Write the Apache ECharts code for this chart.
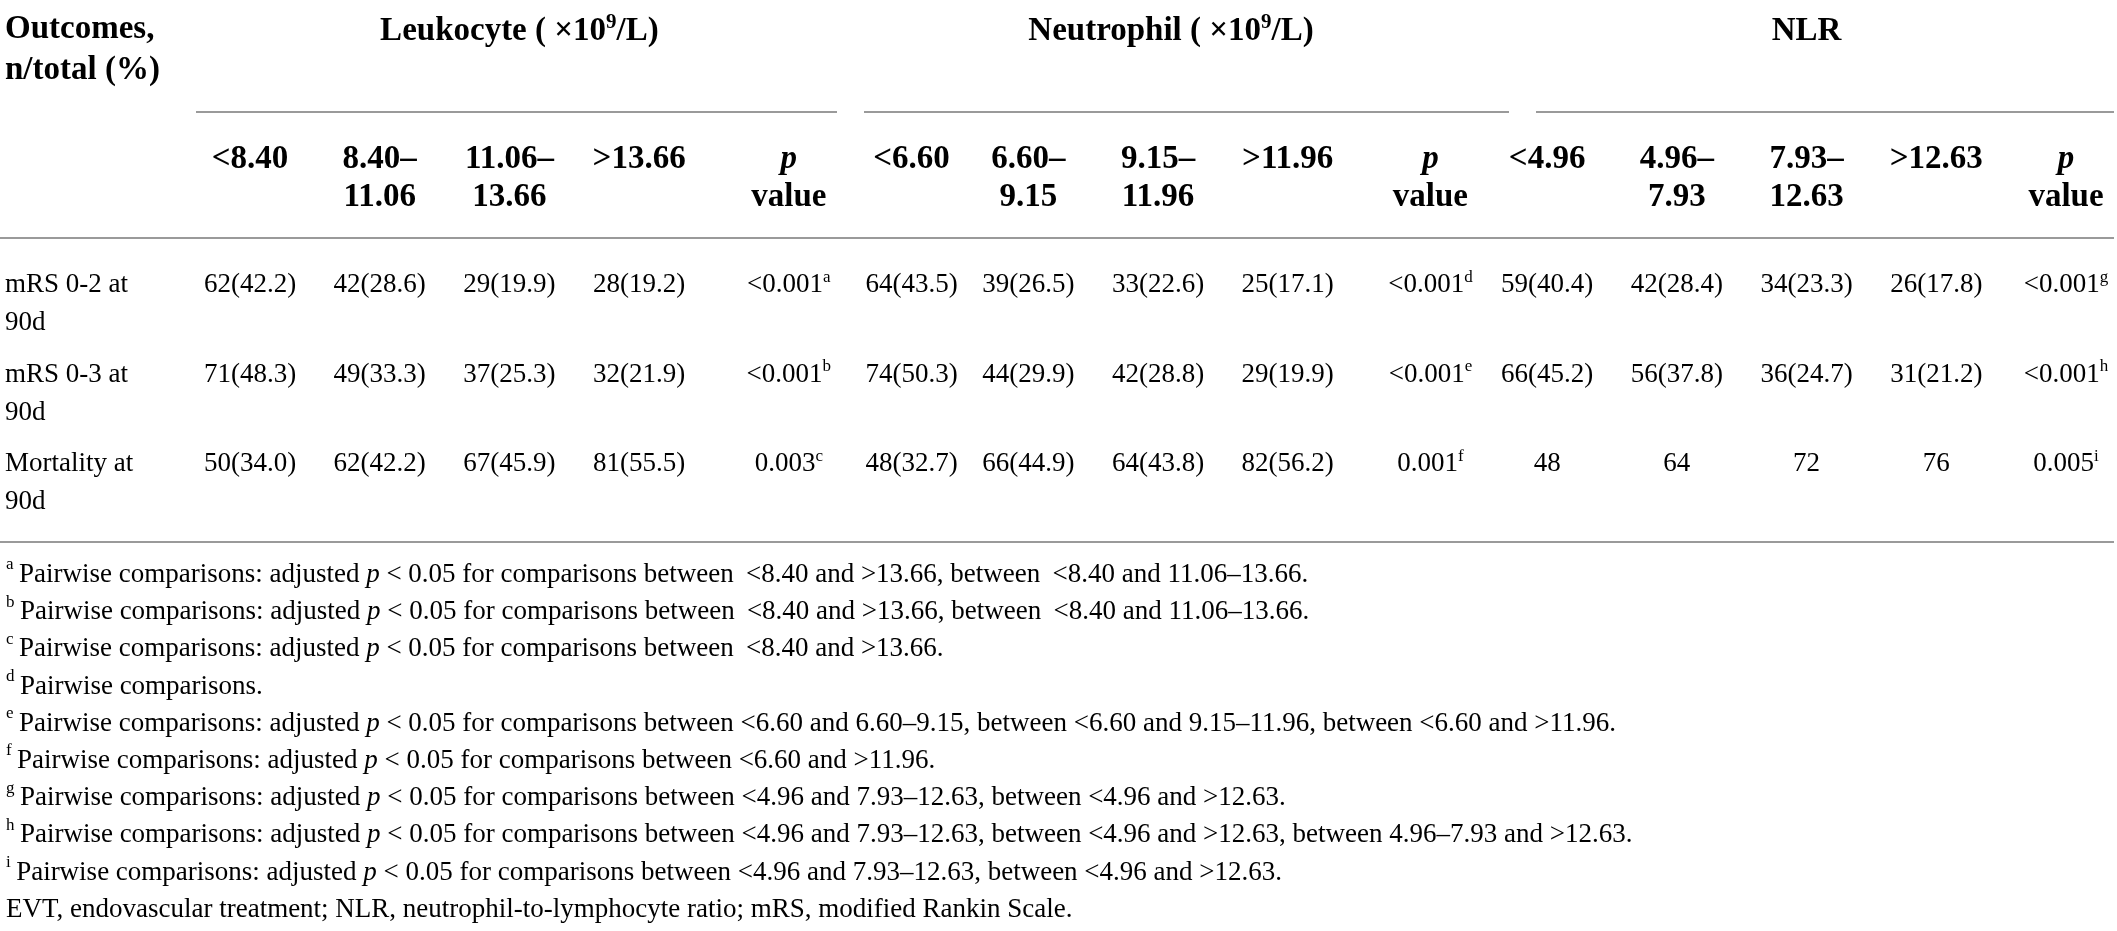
<!DOCTYPE html>
<html>
<head>
<meta charset="utf-8">
<script src="https://cdn.jsdelivr.net/npm/echarts@6/dist/echarts.min.js"></script>
<style>
html,body{margin:0;padding:0;background:#fff;}
#main{width:2117px;height:931px;}
</style>
</head>
<body>
<div id="main"></div>
<script>
var serif = 'Liberation Serif';

// column headers (second header row); a line that is just "p" is set in italics
var colLabels = [
	'<8.40', '8.40–\n11.06', '11.06–\n13.66', '>13.66', 'p\nvalue',
	'<6.60', '6.60–\n9.15', '9.15–\n11.96', '>11.96', 'p\nvalue',
	'<4.96', '4.96–\n7.93', '7.93–\n12.63', '>12.63', 'p\nvalue'
];
var outcomeRows = ['mRS 0-2 at\n90d', 'mRS 0-3 at\n90d', 'Mortality at\n90d'];

var groupNames = ['Leukocyte ( ×10{sup|9}/L)', 'Neutrophil ( ×10{sup|9}/L)', 'NLR'];

var leukocyteCells = [
	['62(42.2)', '42(28.6)', '29(19.9)', '28(19.2)'],
	['71(48.3)', '49(33.3)', '37(25.3)', '32(21.9)'],
	['50(34.0)', '62(42.2)', '67(45.9)', '81(55.5)']
];
var leukocyteP = ['<0.001', '<0.001', '0.003'];
var leukocyteNote = ['a', 'b', 'c'];

var neutrophilCells = [
	['64(43.5)', '39(26.5)', '33(22.6)', '25(17.1)'],
	['74(50.3)', '44(29.9)', '42(28.8)', '29(19.9)'],
	['48(32.7)', '66(44.9)', '64(43.8)', '82(56.2)']
];
var neutrophilP = ['<0.001', '<0.001', '0.001'];
var neutrophilNote = ['d', 'e', 'f'];

var nlrCells = [
	['59(40.4)', '42(28.4)', '34(23.3)', '26(17.8)'],
	['66(45.2)', '56(37.8)', '36(24.7)', '31(21.2)'],
	['48', '64', '72', '76']
];
var nlrP = ['<0.001', '<0.001', '0.005'];
var nlrNote = ['g', 'h', 'i'];

var footMarks = ['a', 'b', 'c', 'd', 'e', 'f', 'g', 'h', 'i'];
var footTexts = [
	'Pairwise comparisons: adjusted p < 0.05 for comparisons between \u2009<8.40 and >13.66, between \u2009<8.40 and 11.06–13.66.',
	'Pairwise comparisons: adjusted p < 0.05 for comparisons between \u2009<8.40 and >13.66, between \u2009<8.40 and 11.06–13.66.',
	'Pairwise comparisons: adjusted p < 0.05 for comparisons between \u2009<8.40 and >13.66.',
	'Pairwise comparisons.',
	'Pairwise comparisons: adjusted p < 0.05 for comparisons between <6.60 and 6.60–9.15, between <6.60 and 9.15–11.96, between <6.60 and >11.96.',
	'Pairwise comparisons: adjusted p < 0.05 for comparisons between <6.60 and >11.96.',
	'Pairwise comparisons: adjusted p < 0.05 for comparisons between <4.96 and 7.93–12.63, between <4.96 and >12.63.',
	'Pairwise comparisons: adjusted p < 0.05 for comparisons between <4.96 and 7.93–12.63, between <4.96 and >12.63, between 4.96–7.93 and >12.63.',
	'Pairwise comparisons: adjusted p < 0.05 for comparisons between <4.96 and 7.93–12.63, between <4.96 and >12.63.'
];
var abbrevText = 'EVT, endovascular treatment; NLR, neutrophil-to-lymphocyte ratio; mRS, modified Rankin Scale.';

// layout: small horizontal nudge (px) per column, and the rule under each group title
var colNudge = [0, 0, 0, 0, 20, 13, 0, 0, 0, 13, 0, 0, 0, 0, 0];
var groupRules = [[196, 837], [864, 1509], [1536, 2114]];

// build cell list [col, row] + text
var cellData = [];
var cellText = [];
function addGroup(cells, pVals, notes, startCol){
	for(var r = 0; r < cells.length; r++){
		for(var c = 0; c < cells[r].length; c++){
			cellData.push([startCol + c, r]);
			cellText.push(cells[r][c]);
		}
		cellData.push([startCol + 4, r]);
		cellText.push(pVals[r] + '{sup|' + notes[r] + '}');
	}
}
addGroup(leukocyteCells, leukocyteP, leukocyteNote, 0);
addGroup(neutrophilCells, neutrophilP, neutrophilNote, 5);
addGroup(nlrCells, nlrP, nlrNote, 10);

var lineColor = '#9a9a9a';
var bodySize = 27;
var headSize = 33;
var headLine = 38;

// header label rich styles, one pair per column so each can carry its nudge
var headRich = {};
for(var k = 0; k < colLabels.length; k++){
	var pad = [0, 0, 0, colNudge[k] * 2];
	headRich['n' + k] = {fontFamily: serif, fontWeight: 'bold', fontSize: headSize, lineHeight: headLine, color: '#000', padding: pad};
	headRich['i' + k] = {fontFamily: serif, fontWeight: 'bold', fontStyle: 'italic', fontSize: headSize, lineHeight: headLine, color: '#000', padding: pad};
}
function headerLabel(value, idx){
	return value.split('\n').map(function(line){
		return '{' + (line === 'p' ? 'i' : 'n') + idx + '|' + line + '}';
	}).join('\n');
}

var chart = echarts.init(document.getElementById('main'));

chart.setOption({
	backgroundColor: '#fff',
	animation: false,
	grid: {left: 250, right: 51, top: 285, bottom: 467},
	xAxis: {
		type: 'category',
		position: 'top',
		data: colLabels,
		boundaryGap: false,
		axisLine: {show: false},
		axisTick: {show: false},
		splitLine: {show: false},
		axisLabel: {
			interval: 0,
			hideOverlap: false,
			margin: 145,
			verticalAlign: 'top',
			align: 'center',
			color: '#000',
			fontFamily: serif,
			fontWeight: 'bold',
			fontSize: headSize,
			lineHeight: headLine,
			formatter: headerLabel,
			rich: headRich
		}
	},
	yAxis: {
		type: 'category',
		inverse: true,
		data: outcomeRows,
		boundaryGap: false,
		axisLine: {show: false},
		axisTick: {show: false},
		splitLine: {show: false},
		axisLabel: {
			interval: 0,
			align: 'left',
			margin: 245,
			lineHeight: 38,
			color: '#000',
			fontFamily: serif,
			fontSize: bodySize,
			// leading blank line keeps the first text line on the row
			formatter: function(v){ return '\n' + v; }
		}
	},
	series: [{
		type: 'custom',
		data: cellData,
		renderItem: function(params, api){
			var col = api.value(0);
			var pt = api.coord([col, api.value(1)]);
			return {
				type: 'text',
				x: pt[0] + colNudge[col],
				y: pt[1],
				style: {
					text: cellText[params.dataIndex],
					fill: '#000',
					fontFamily: serif,
					fontSize: bodySize,
					lineHeight: 32,
					align: 'center',
					verticalAlign: 'middle',
					rich: {
						sup: {fontFamily: serif, fontSize: 17, lineHeight: 14, verticalAlign: 'top', fill: '#000'}
					}
				}
			};
		}
	}]
});

// decorations laid out from the x axis scale
var xs = [];
for(var i = 0; i < colLabels.length; i++){
	xs.push(chart.convertToPixel({xAxisIndex: 0}, i) + colNudge[i]);
}
var graphics = [];
for(var g = 0; g < groupNames.length; g++){
	graphics.push({
		type: 'line',
		shape: {x1: groupRules[g][0], y1: 112, x2: groupRules[g][1], y2: 112},
		style: {stroke: lineColor, lineWidth: 2}
	});
	graphics.push({
		type: 'text',
		x: (xs[g * 5] + xs[g * 5 + 4]) / 2,
		y: 31,
		style: {
			text: groupNames[g],
			fill: '#000',
			fontFamily: serif,
			fontWeight: 'bold',
			fontSize: headSize,
			lineHeight: 38,
			align: 'center',
			verticalAlign: 'middle',
			rich: {sup: {fontFamily: serif, fontWeight: 'bold', fontSize: 21, lineHeight: 20, verticalAlign: 'top', fill: '#000'}}
		}
	});
}
// first header cell
graphics.push({
	type: 'text',
	x: 5,
	y: 50,
	style: {
		text: 'Outcomes,\nn/total (%)',
		fill: '#000',
		fontFamily: serif,
		fontWeight: 'bold',
		fontSize: headSize,
		lineHeight: 41,
		align: 'left',
		verticalAlign: 'middle'
	}
});
// horizontal rules
graphics.push({type: 'line', shape: {x1: 0, y1: 238, x2: 2114, y2: 238}, style: {stroke: lineColor, lineWidth: 2}});
graphics.push({type: 'line', shape: {x1: 0, y1: 542, x2: 2114, y2: 542}, style: {stroke: lineColor, lineWidth: 2}});

// footnotes
var footLines = [];
for(var f = 0; f < footMarks.length; f++){
	footLines.push('{sup|' + footMarks[f] + '}\u2009' + footTexts[f].replace(' p < ', ' {it|p} < '));
}
footLines.push(abbrevText);
graphics.push({
	type: 'text',
	x: 6,
	y: 575 - 37.2 / 2,
	style: {
		text: footLines.join('\n'),
		fill: '#000',
		fontFamily: serif,
		fontSize: bodySize,
		lineHeight: 37.2,
		align: 'left',
		verticalAlign: 'top',
		rich: {
			sup: {fontFamily: serif, fontSize: 17, lineHeight: 24, verticalAlign: 'top', fill: '#000'},
			it: {fontFamily: serif, fontStyle: 'italic', fontSize: bodySize, lineHeight: 37.2, fill: '#000'}
		}
	}
});
chart.setOption({graphic: graphics});
</script>
</body>
</html>
